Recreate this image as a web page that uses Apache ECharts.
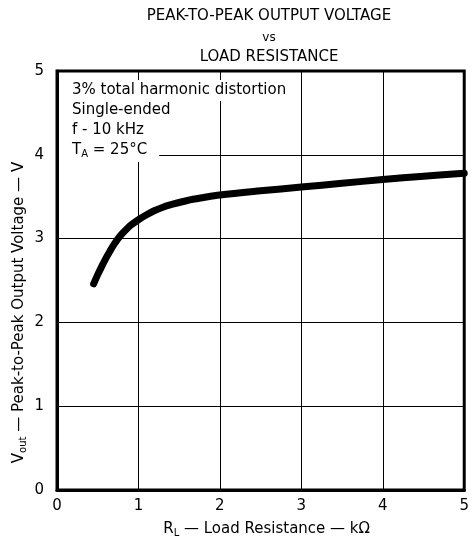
<!DOCTYPE html>
<html>
<head>
<meta charset="utf-8">
<script src="https://cdn.jsdelivr.net/npm/echarts@6/dist/echarts.min.js"></script>
<style>
  html, body { margin: 0; padding: 0; background: #fff; }
  #chart { width: 472px; height: 543px; }
</style>
</head>
<body>
<div id="chart"></div>
<script>
// Load resistance (kΩ) and peak-to-peak output voltage (V)
const loadResistance = [0.45, 0.5, 0.55, 0.6, 0.65, 0.7, 0.75, 0.8, 0.85, 0.9, 1.0, 1.1, 1.2, 1.3, 1.4, 1.6, 1.8, 2.0, 2.5, 3.0, 3.5, 4.0, 4.5, 5.0];
const outputVoltage  = [2.46, 2.57, 2.67, 2.765, 2.85, 2.93, 3.00, 3.06, 3.11, 3.155, 3.225, 3.285, 3.335, 3.375, 3.405, 3.455, 3.49, 3.52, 3.57, 3.615, 3.66, 3.705, 3.745, 3.78];

const xTicks = [0, 1, 2, 3, 4, 5];
const yTicks = [0, 1, 2, 3, 4, 5];

const titleLines = ['PEAK-TO-PEAK OUTPUT VOLTAGE', 'vs', 'LOAD RESISTANCE'];
const conditions = ['3% total harmonic distortion', 'Single-ended', 'f - 10 kHz'];

const FONT = 'DejaVu Sans';
const chart = echarts.init(document.getElementById('chart'), null, { renderer: 'canvas' });

const subRich = {
  b: { fontFamily: FONT, fontSize: 15, color: '#000' },
  s: { fontFamily: FONT, fontSize: 10, color: '#000', verticalAlign: 'bottom', padding: [7, 0, 0, 0] }
};

chart.setOption({
  animation: false,
  backgroundColor: '#fff',
  textStyle: { fontFamily: FONT, color: '#000' },
  title: [
    { text: titleLines[0], left: 264, top: 4, textAlign: 'center',
      textStyle: { fontFamily: FONT, fontSize: 15, fontWeight: 'normal', color: '#000' } },
    { text: titleLines[1], left: 264, top: 27, textAlign: 'center',
      textStyle: { fontFamily: FONT, fontSize: 12, fontWeight: 'normal', color: '#000' } },
    { text: titleLines[2], left: 264, top: 45, textAlign: 'center',
      textStyle: { fontFamily: FONT, fontSize: 15, fontWeight: 'normal', color: '#000' } }
  ],
  grid: {
    left: 57, right: 4, top: 71, bottom: 50,
    show: true, borderColor: '#000', borderWidth: 3, backgroundColor: 'transparent'
  },
  xAxis: {
    type: 'value', min: xTicks[0], max: xTicks[xTicks.length - 1], interval: 1,
    axisLine: { show: true, onZero: false, lineStyle: { color: '#000', width: 3 } },
    axisTick: { show: false },
    splitLine: { show: true, lineStyle: { color: '#000', width: 1 } },
    axisLabel: { color: '#000', fontFamily: FONT, fontSize: 15, margin: 9 },
    name: '{b|R}{s|L}{b| — Load Resistance — kΩ}',
    nameLocation: 'middle', nameGap: 31, nameMoveOverlap: false,
    nameTextStyle: { fontFamily: FONT, fontSize: 15, color: '#000', padding: [0, 0, 0, 12], rich: subRich }
  },
  yAxis: {
    type: 'value', min: yTicks[0], max: yTicks[yTicks.length - 1], interval: 1,
    axisLine: { show: true, onZero: false, lineStyle: { color: '#000', width: 3 } },
    axisTick: { show: false },
    splitLine: { show: true, lineStyle: { color: '#000', width: 1 } },
    axisLabel: { color: '#000', fontFamily: FONT, fontSize: 15, margin: 13 },
    name: '{b|V}{s|out}{b| — Peak-to-Peak Output Voltage — V}',
    nameLocation: 'middle', nameGap: 29, nameRotate: 90, nameMoveOverlap: false,
    nameTextStyle: { fontFamily: FONT, fontSize: 15, color: '#000', padding: [0, 64, 0, 0], rich: subRich }
  },
  graphic: [
    { type: 'text', left: 59, top: 80, z: 10,
      style: { text: conditions[0], font: '15px "' + FONT + '"', fill: '#000',
               backgroundColor: '#fff', padding: [3, 4, 3, 13] } },
    { type: 'text', left: 59, top: 100, z: 10,
      style: { text: conditions[1], font: '15px "' + FONT + '"', fill: '#000',
               backgroundColor: '#fff', padding: [3, 4, 3, 13] } },
    { type: 'text', left: 59, top: 120, z: 10,
      style: { text: conditions[2], font: '15px "' + FONT + '"', fill: '#000',
               backgroundColor: '#fff', padding: [3, 4, 3, 13] } },
    { type: 'text', left: 59, top: 139, z: 10,
      style: {
        text: '{b|T}{s|A}{b| = 25°C}',
        fill: '#000', backgroundColor: '#fff', padding: [3, 12, 3, 13],
        rich: {
          b: { fontFamily: FONT, fontSize: 15, fill: '#000' },
          s: { fontFamily: FONT, fontSize: 10, fill: '#000', verticalAlign: 'bottom', padding: [7, 0, 0, 0] }
        }
      } }
  ],
  series: [{
    type: 'line',
    data: loadResistance.map((r, i) => [r, outputVoltage[i]]),
    smooth: 0.35,
    showSymbol: false,
    lineStyle: { color: '#000', width: 7, cap: 'round', join: 'round' },
    z: 3
  }]
});
</script>
</body>
</html>
